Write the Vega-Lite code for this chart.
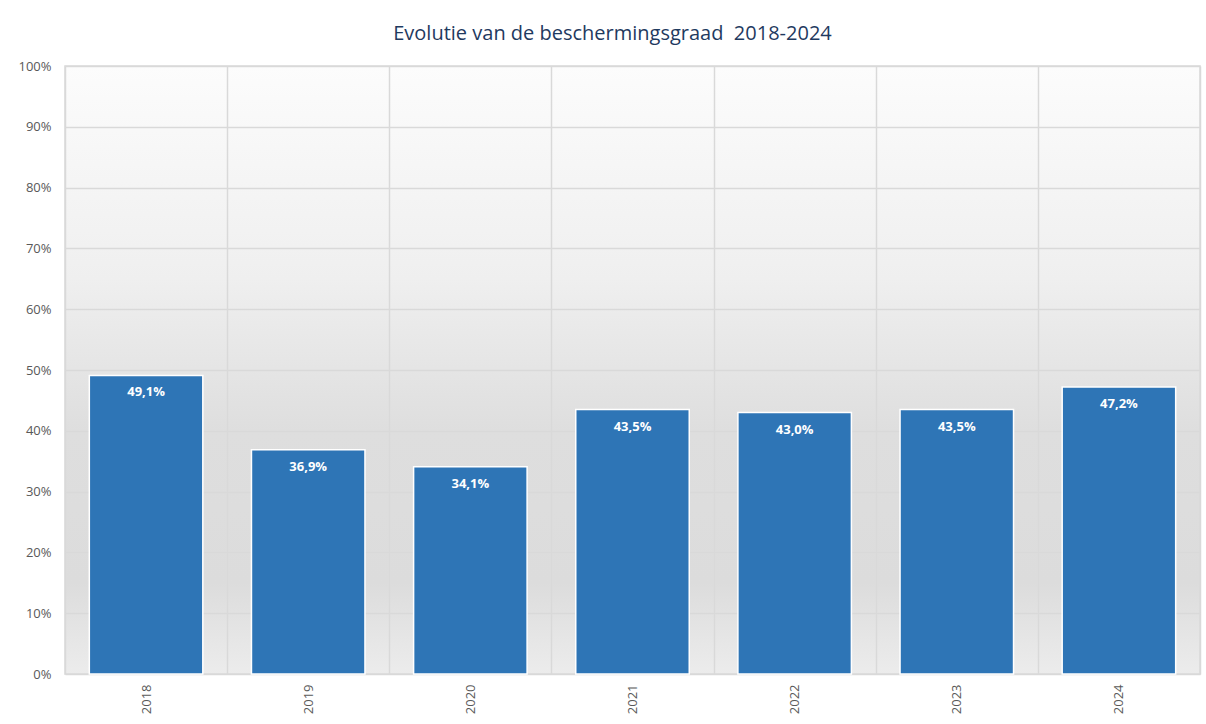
{
  "$schema": "https://vega.github.io/schema/vega-lite/v6.json",
  "width": 1135,
  "height": 608,
  "autosize": {"type": "none"},
  "padding": {"left": 65, "top": 66, "right": 6, "bottom": 50},
  "background": "#ffffff",
  "title": {
    "text": "Evolutie van de beschermingsgraad\u00a0 2018-2024",
    "font": "Open Sans",
    "fontSize": 20,
    "fontWeight": "normal",
    "color": "#1F3A5F",
    "anchor": "middle",
    "dx": -20,
    "offset": 16
  },
  "data": {
    "values": [
      {"jaar": "2018", "graad": 0.491},
      {"jaar": "2019", "graad": 0.369},
      {"jaar": "2020", "graad": 0.341},
      {"jaar": "2021", "graad": 0.435},
      {"jaar": "2022", "graad": 0.430},
      {"jaar": "2023", "graad": 0.435},
      {"jaar": "2024", "graad": 0.472}
    ]
  },
  "encoding": {
    "x": {
      "field": "jaar",
      "type": "nominal",
      "title": null,
      "scale": {"paddingInner": 0, "paddingOuter": 0},
      "axis": {
        "labelAngle": -90,
        "labelAlign": "right",
        "labelBaseline": "middle",
        "labelPadding": 10,
        "labelColor": "#595959",
        "labelFont": "Open Sans",
        "labelFontSize": 13,
        "ticks": false,
        "domain": false,
        "grid": true,
        "tickBand": "extent",
        "gridColor": "#d9d9d9",
        "gridWidth": 1.5
      }
    },
    "y": {
      "field": "graad",
      "type": "quantitative",
      "title": null,
      "scale": {"domain": [0, 1]},
      "axis": {
        "format": ".0%",
        "values": [0, 0.1, 0.2, 0.3, 0.4, 0.5, 0.6, 0.7, 0.8, 0.9, 1],
        "labelColor": "#595959",
        "labelFont": "Open Sans",
        "labelFontSize": 13,
        "labelPadding": 14,
        "labelOverlap": false,
        "ticks": false,
        "domain": false,
        "gridColor": "#d9d9d9",
        "gridWidth": 1.5
      }
    }
  },
  "layer": [
    {
      "mark": {"type": "bar", "color": "#2E75B6", "stroke": "#ffffff", "strokeWidth": 1.5, "width": {"band": 0.7}}
    },
    {
      "mark": {"type": "text", "color": "#ffffff", "font": "Open Sans", "fontWeight": "bold", "fontSize": 13, "baseline": "top", "dy": 11},
      "encoding": {
        "text": {"field": "graad", "type": "quantitative", "format": ".1%"}
      }
    }
  ],
  "config": {
    "locale": {
      "number": {"decimal": ",", "thousands": ".", "grouping": [3], "currency": ["€", ""]}
    },
    "view": {
      "stroke": "#d9d9d9",
      "strokeWidth": 1.5,
      "fill": {
        "gradient": "linear",
        "x1": 0, "y1": 0, "x2": 0, "y2": 1,
        "stops": [
          {"offset": 0, "color": "#fcfcfc"},
          {"offset": 0.35, "color": "#efefef"},
          {"offset": 0.6, "color": "#dedede"},
          {"offset": 0.85, "color": "#dcdcdc"},
          {"offset": 1, "color": "#ececec"}
        ]
      }
    }
  }
}
